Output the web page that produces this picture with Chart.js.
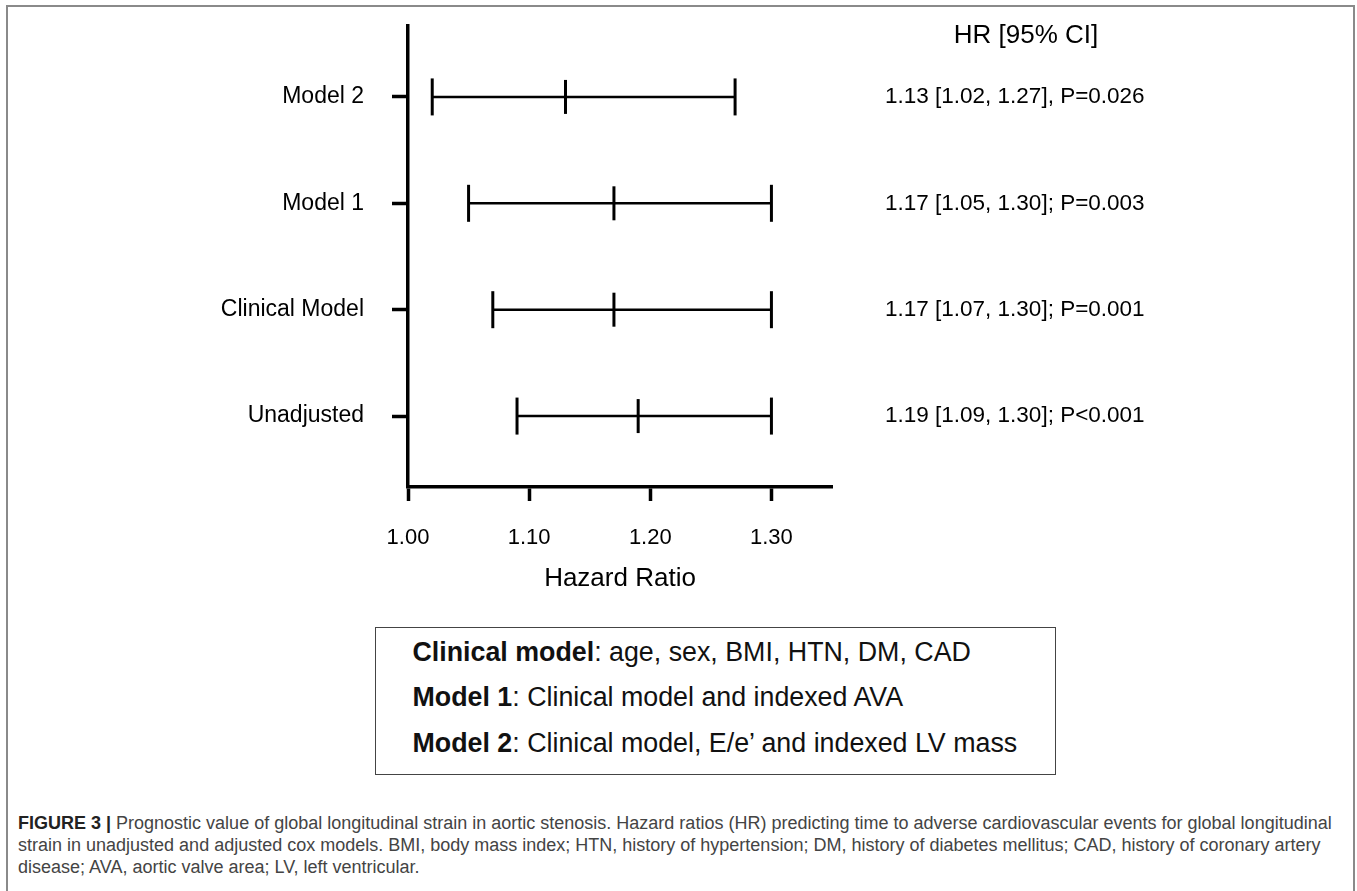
<!DOCTYPE html>
<html lang="en">
<head>
<meta charset="UTF-8" />
<title>Figure 3 - Hazard ratios for global longitudinal strain</title>
<style>
  body {
    margin: 0;
    background: #fff;
    font-family: 'Liberation Sans', Arial, sans-serif;
    color: #000;
  }
  .frame {
    position: absolute;
    left: 6px;
    top: 5px;
    width: 1349px;
    height: 900px;
    border: 2px solid #8a8a8a;
    box-sizing: border-box;
  }
  #wrap {
    position: absolute;
    left: 0;
    top: 0;
    width: 1357px;
    height: 600px;
  }
  .legend {
    position: absolute;
    left: 375px;
    top: 627px;
    width: 681px;
    height: 148px;
    border: 1.5px solid #444;
    box-sizing: border-box;
    font-size: 26.8px;
    line-height: 30px;
    color: #111;
  }
  .legend div {
    position: absolute;
    left: 36.5px;
    white-space: nowrap;
  }
  .caption {
    position: absolute;
    left: 18px;
    top: 812px;
    font-size: 18px;
    line-height: 22px;
    color: #444;
    white-space: nowrap;
  }
  .caption b { color: #222; }
</style>
</head>
<body>
<div class="frame"></div>
<div id="wrap">
  <canvas id="forest" aria-label="Hazard ratios with 95% confidence intervals" role="img"></canvas>
</div>
<div class="legend">
  <div style="top:9px"><b>Clinical model</b>: age, sex, BMI, HTN, DM, CAD</div>
  <div style="top:54px"><b>Model 1</b>: Clinical model and indexed AVA</div>
  <div style="top:100px"><b>Model 2</b>: Clinical model, E/e’ and indexed LV mass</div>
</div>
<div class="caption"><b>FIGURE 3 |</b> Prognostic value of global longitudinal strain in aortic stenosis. Hazard ratios (HR) predicting time to adverse cardiovascular events for global longitudinal<br>strain in unadjusted and adjusted cox models. BMI, body mass index; HTN, history of hypertension; DM, history of diabetes mellitus; CAD, history of coronary artery<br>disease; AVA, aortic valve area; LV, left ventricular.</div>

<script src="https://cdn.jsdelivr.net/npm/chart.js"></script>
<script>
  // rows from bottom to top
  const rowLabels = ['Unadjusted', 'Clinical Model', 'Model 1', 'Model 2'];
  const hrValues = [1.19, 1.17, 1.17, 1.13];
  const ciLower = [1.09, 1.07, 1.05, 1.02];
  const ciUpper = [1.30, 1.30, 1.30, 1.27];
  const resultText = [
    '1.19 [1.09, 1.30]; P<0.001',
    '1.17 [1.07, 1.30]; P=0.001',
    '1.17 [1.05, 1.30]; P=0.003',
    '1.13 [1.02, 1.27], P=0.026'
  ];
  const xTicks = [1.00, 1.10, 1.20, 1.30];

  const fontFamily = "'Liberation Sans', Arial, sans-serif";

  const datasets = rowLabels.map((name, i) => ({
    label: name,
    data: [
      { x: ciLower[i], y: i },
      { x: hrValues[i], y: i },
      { x: ciUpper[i], y: i }
    ],
    showLine: true,
    borderColor: '#000',
    borderWidth: 2.5,
    pointStyle: 'line',
    rotation: 90,
    pointRadius: [18.5, 17, 18.5],
    pointBorderWidth: 3,
    pointBorderColor: '#000',
    clip: false
  }));

  const resultsPlugin = {
    id: 'results',
    afterDraw(chart) {
      const { ctx, scales: { y } } = chart;
      ctx.save();
      ctx.fillStyle = '#000';
      ctx.textAlign = 'left';
      ctx.textBaseline = 'middle';
      ctx.font = '22.5px ' + fontFamily;
      resultText.forEach((t, i) => ctx.fillText(t, 885, y.getPixelForValue(i)));
      ctx.textAlign = 'center';
      ctx.textBaseline = 'alphabetic';
      ctx.font = '26px ' + fontFamily;
      ctx.fillText('HR [95% CI]', 1026, 43);
      ctx.restore();
    }
  };

  new Chart(document.getElementById('forest'), {
    type: 'scatter',
    data: { datasets },
    options: {
      responsive: true,
      maintainAspectRatio: false,
      animation: false,
      layout: { padding: { top: 26, right: 525, left: 0, bottom: 0 } },
      plugins: {
        legend: { display: false },
        tooltip: { enabled: false }
      },
      scales: {
        x: {
          type: 'linear',
          min: 1.0,
          max: 1.35,
          afterBuildTicks: s => { s.ticks = xTicks.map(v => ({ value: v })); },
          afterFit: s => { s.height = 113; s.paddingLeft = 0; s.paddingRight = 0; },
          border: { display: true, color: '#000', width: 3.5 },
          grid: { drawOnChartArea: false, drawTicks: true, tickLength: 14, tickWidth: 3.5, tickColor: '#000' },
          ticks: {
            color: '#000',
            font: { size: 22, family: fontFamily },
            padding: 24,
            maxRotation: 0,
            autoSkip: false,
            callback: v => Number(v).toFixed(2)
          },
          title: {
            display: true,
            text: 'Hazard Ratio',
            color: '#000',
            font: { size: 26, family: fontFamily },
            padding: { top: 0, bottom: 6 }
          }
        },
        y: {
          type: 'linear',
          min: -2 / 3,
          max: 11 / 3,
          afterBuildTicks: s => { s.ticks = rowLabels.map((_, i) => ({ value: i })); },
          afterFit: s => { s.width = 408; s.paddingTop = 0; s.paddingBottom = 0; },
          border: { display: true, color: '#000', width: 3.5 },
          grid: { drawOnChartArea: false, drawTicks: true, tickLength: 16, tickWidth: 3.5, tickColor: '#000' },
          ticks: {
            color: '#000',
            font: { size: 23, family: fontFamily },
            padding: 28,
            callback: v => rowLabels[v]
          }
        }
      }
    },
    plugins: [resultsPlugin]
  });
</script>
</body>
</html>
